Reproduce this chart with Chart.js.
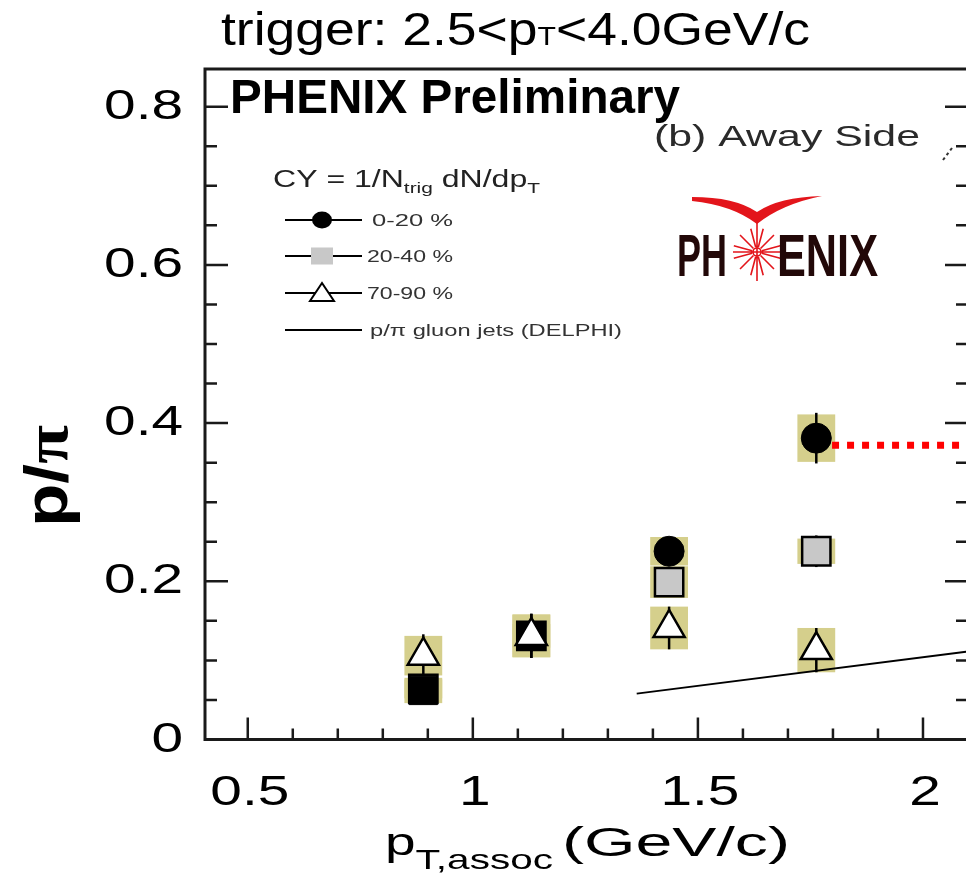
<!DOCTYPE html>
<html>
<head>
<meta charset="utf-8">
<script src="https://cdn.jsdelivr.net/npm/chart.js@4.4.0/dist/chart.umd.min.js"></script>
<style>
html, body { margin: 0; padding: 0; background: #fff; overflow: hidden; }
canvas { display: block; }
</style>
</head>
<body>
<canvas id="ratioChart" width="970" height="880" style="width:970px;height:880px"></canvas>
<script>
// p/pi ratio, away side, trigger 2.5<pT<4.0 GeV/c
const ptAssoc = [0.89, 1.13, 1.436, 1.763]

const ratio0_20 = [0.062, 0.131, 0.238, 0.381]
const stat0_20 = [0.012, 0.028, 0.014, 0.032]
const sys0_20 = [0.016, 0.027, 0.018, 0.030]

const ratio20_40 = [0.064, 0.131, 0.199, 0.238]
const stat20_40 = [0.010, 0.020, 0.018, 0.020]
const sys20_40 = [0.012, 0.015, 0.020, 0.016]

const ratio70_90 = [0.106, 0.131, 0.141, 0.113]
const stat70_90 = [0.027, 0.028, 0.027, 0.028]
const sys70_90 = [0.025, 0.027, 0.027, 0.028]

// DELPHI gluon jet p/pi line and the red dotted level
const delphiX = [1.364, 2.1]
const delphiY = [0.058, 0.1113]
const redLineX = [1.798, 2.1]
const redLineY = [0.372, 0.372]

const xTickLabels = [0.5, 1, 1.5, 2]
const yTickLabels = [0, 0.2, 0.4, 0.6, 0.8]
const legendLabels = ['0-20 %', '20-40 %', '70-90 %', 'p/\u03c0 gluon jets (DELPHI)']

const FONT = '"Liberation Sans", Arial, Helvetica, sans-serif'
const BOX_HALF = 0.042
const khaki = '#d5cf8c'

const toXY = (xs, ys) => xs.map((x, i) => ({ x: x, y: ys[i] }))

// draw a run of text pieces (for subscripts), optionally stretched to a width
function drawRuns(ctx, runs, x, y, opt) {
    opt = opt || {}
    let natural = 0
    const widths = runs.map(r => {
        ctx.font = (r.bold ? 'bold ' : '') + r.size + 'px ' + (r.family || FONT)
        const w = ctx.measureText(r.t).width
        natural += w
        return w
    })
    const sx = opt.width ? opt.width / natural : (opt.sx || 1)
    const total = natural * sx
    let left = x
    if (opt.align === 'center') left = x - total / 2
    if (opt.align === 'right') left = x - total
    ctx.save()
    ctx.fillStyle = opt.color || '#000'
    ctx.textAlign = 'left'
    ctx.textBaseline = 'alphabetic'
    ctx.translate(left, y)
    ctx.scale(sx, 1)
    let cx = 0
    runs.forEach((r, i) => {
        ctx.font = (r.bold ? 'bold ' : '') + r.size + 'px ' + (r.family || FONT)
        ctx.fillText(r.t, cx, r.dy || 0)
        cx += widths[i]
    })
    ctx.restore()
}

// systematic boxes + stat error bars, under the markers
const errorBars = {
    id: 'errorBars',
    beforeDatasetsDraw(chart) {
        const { ctx, scales: { x, y } } = chart
        const groups = [
            [ratio70_90, sys70_90, stat70_90],
            [ratio20_40, sys20_40, stat20_40],
            [ratio0_20, sys0_20, stat0_20]
        ]
        ctx.save()
        ctx.fillStyle = khaki
        groups.forEach(g => {
            ptAssoc.forEach((p, i) => {
                const x0 = x.getPixelForValue(p - BOX_HALF)
                const x1 = x.getPixelForValue(p + BOX_HALF)
                const y0 = y.getPixelForValue(g[0][i] + g[1][i])
                const y1 = y.getPixelForValue(g[0][i] - g[1][i])
                ctx.fillRect(x0, y0, x1 - x0, y1 - y0)
            })
        })
        ctx.strokeStyle = '#000'
        ctx.lineWidth = 2.5
        groups.forEach(g => {
            ptAssoc.forEach((p, i) => {
                const px = x.getPixelForValue(p)
                ctx.beginPath()
                ctx.moveTo(px, y.getPixelForValue(g[0][i] + g[2][i]))
                ctx.lineTo(px, y.getPixelForValue(g[0][i] - g[2][i]))
                ctx.stroke()
            })
        })
        ctx.restore()
    }
}

// frame, inward ticks, tick labels
const frame = {
    id: 'frame',
    afterDraw(chart) {
        const { ctx, chartArea: a, scales: { x, y } } = chart
        ctx.save()
        ctx.strokeStyle = '#1a1a1a'
        ctx.lineWidth = 2.5
        ctx.beginPath()
        for (let i = Math.ceil(x.min * 10); i <= Math.floor(x.max * 10 + 1e-6); i++) {
            const v = i / 10
            const major = i % 5 === 0
            const px = x.getPixelForValue(v)
            ctx.moveTo(px, a.bottom)
            ctx.lineTo(px, a.bottom - (major ? 22 : 11))
        }
        for (let i = 1; i <= Math.floor(y.max * 20 + 1e-6); i++) {
            const v = i / 20
            const major = i % 4 === 0
            const py = y.getPixelForValue(v)
            const len = major ? 23 : 12
            ctx.moveTo(a.left, py)
            ctx.lineTo(a.left + len, py)
            ctx.moveTo(a.right, py)
            ctx.lineTo(a.right - len, py)
        }
        ctx.stroke()
        ctx.lineWidth = 3
        ctx.strokeRect(a.left, a.top, a.right - a.left, a.bottom - a.top)
        ctx.restore()

        xTickLabels.forEach(v => {
            drawRuns(ctx, [{ t: String(v), size: 43 }], x.getPixelForValue(v) + 2, 805, { sx: 1.32, align: 'center' })
        })
        yTickLabels.forEach(v => {
            drawRuns(ctx, [{ t: String(v), size: 43 }], 183, y.getPixelForValue(v) + 12, { sx: 1.32, align: 'right' })
        })
    }
}

// titles, legend and the logo
const annotations = {
    id: 'annotations',
    afterDraw(chart) {
        const ctx = chart.ctx

        drawRuns(ctx, [
            { t: 'trigger: 2.5<p', size: 46 },
            { t: 'T', size: 26 },
            { t: '<4.0GeV/c', size: 46 }
        ], 221, 45, { width: 589 })

        drawRuns(ctx, [{ t: 'PHENIX Preliminary', size: 49, bold: true }], 230, 113, { width: 450 })
        drawRuns(ctx, [{ t: '(b) Away Side', size: 30 }], 654, 146, { width: 266, color: '#2a2a2a' })

        // axis titles
        drawRuns(ctx, [
            { t: 'p', size: 38 },
            { t: 'T,assoc', size: 28, dy: 14 }
        ], 385, 855, { width: 168 })
        drawRuns(ctx, [{ t: '(GeV/c)', size: 40 }], 562, 856, { width: 228 })

        ctx.save()
        ctx.translate(67, 527)
        ctx.rotate(-Math.PI / 2)
        drawRuns(ctx, [
            { t: 'p/', size: 61, bold: true },
            { t: '\u03c0', size: 61, bold: true, family: '"Liberation Serif", serif' }
        ], 0, 0, { width: 102 })
        ctx.restore()

        // legend block
        drawRuns(ctx, [
            { t: 'CY = 1/N', size: 23 },
            { t: 'trig', size: 15, dy: 6 },
            { t: ' dN/dp', size: 23 },
            { t: 'T', size: 15, dy: 6 }
        ], 273, 187, { width: 267, color: '#222' })

        const rows = [220, 256, 293, 330]
        ctx.save()
        ctx.strokeStyle = '#000'
        ctx.lineWidth = 2
        rows.forEach(ry => {
            ctx.beginPath()
            ctx.moveTo(285, ry)
            ctx.lineTo(362, ry)
            ctx.stroke()
        })
        ctx.fillStyle = '#000'
        ctx.beginPath()
        ctx.ellipse(322, rows[0], 10, 8.5, 0, 0, Math.PI * 2)
        ctx.fill()
        ctx.fillStyle = '#c8c8c8'
        ctx.fillRect(311, rows[1] - 8.5, 22, 17)
        ctx.fillStyle = '#fff'
        ctx.beginPath()
        ctx.moveTo(322, rows[2] - 10)
        ctx.lineTo(334, rows[2] + 8)
        ctx.lineTo(310, rows[2] + 8)
        ctx.closePath()
        ctx.fill()
        ctx.stroke()
        ctx.restore()
        const lx = [372, 367, 367, 370]
        const lw = [81, 86, 86, 252]
        legendLabels.forEach((t, i) => {
            drawRuns(ctx, [{ t: t, size: 17 }], lx[i], rows[i] + 6, { width: lw[i], color: '#333' })
        })

        // PHENIX logo
        ctx.save()
        ctx.fillStyle = '#e3151b'
        ctx.beginPath()
        ctx.moveTo(692, 197)
        ctx.quadraticCurveTo(735, 197, 757, 212)
        ctx.quadraticCurveTo(779, 197, 822, 196)
        ctx.quadraticCurveTo(782, 204, 757, 224)
        ctx.quadraticCurveTo(732, 205, 692, 201)
        ctx.closePath()
        ctx.fill()
        ctx.strokeStyle = '#e3151b'
        ctx.lineWidth = 1.6
        ctx.beginPath()
        ctx.moveTo(757, 220)
        ctx.lineTo(757, 281)
        for (let k = 0; k < 12; k++) {
            const ang = k * Math.PI / 6 + Math.PI / 12
            ctx.moveTo(757 + Math.cos(ang) * 5, 252 + Math.sin(ang) * 5)
            ctx.lineTo(757 + Math.cos(ang) * 24, 252 + Math.sin(ang) * 24)
        }
        ctx.moveTo(733, 252)
        ctx.lineTo(781, 252)
        ctx.stroke()
        ctx.beginPath()
        ctx.arc(757, 252, 4, 0, Math.PI * 2)
        ctx.stroke()
        ctx.restore()
        drawRuns(ctx, [{ t: 'PH', size: 60, bold: true }], 677, 276, { width: 50, color: '#220808' })
        drawRuns(ctx, [{ t: 'ENIX', size: 60, bold: true }], 777, 276, { width: 101, color: '#220808' })

        // stray marks at the right edge of the crop
        ctx.save()
        ctx.strokeStyle = '#333'
        ctx.lineWidth = 2
        ctx.setLineDash([3, 3])
        ctx.beginPath()
        ctx.moveTo(943, 160)
        ctx.lineTo(952, 148)
        ctx.stroke()
        ctx.restore()
    }
}

new Chart(document.getElementById('ratioChart'), {
    type: 'scatter',
    data: {
        datasets: [
            {
                label: legendLabels[2],
                data: toXY(ptAssoc, ratio70_90),
                pointStyle: 'triangle',
                pointRadius: 18,
                backgroundColor: '#fff',
                borderColor: '#000',
                borderWidth: 2.5,
                order: 0
            },
            {
                label: legendLabels[0],
                data: toXY(ptAssoc, ratio0_20),
                pointStyle: ['rect', 'rect', 'circle', 'circle'],
                pointRadius: [20, 20, 15, 15],
                backgroundColor: '#000',
                borderColor: '#000',
                borderWidth: 1,
                order: 1
            },
            {
                label: legendLabels[1],
                data: toXY(ptAssoc, ratio20_40),
                pointStyle: 'rect',
                pointRadius: 20,
                backgroundColor: '#c8c8c8',
                borderColor: '#000',
                borderWidth: 2.5,
                order: 2
            },
            {
                label: 'level',
                data: toXY(redLineX, redLineY),
                showLine: true,
                borderColor: '#ff0000',
                borderWidth: 7,
                borderDash: [7, 8],
                pointRadius: 0,
                order: 3
            },
            {
                label: legendLabels[3],
                data: toXY(delphiX, delphiY),
                showLine: true,
                borderColor: '#000',
                borderWidth: 2,
                pointRadius: 0,
                order: 4
            }
        ]
    },
    options: {
        responsive: false,
        animation: false,
        layout: { autoPadding: false, padding: { top: 69, right: 2, left: 0, bottom: 0 } },
        plugins: { legend: { display: false }, tooltip: { enabled: false } },
        scales: {
            x: {
                type: 'linear',
                min: 0.405,
                max: 2.1,
                ticks: { display: false },
                grid: { display: false },
                border: { display: false },
                afterFit: s => { s.height = 140.5 }
            },
            y: {
                type: 'linear',
                min: 0,
                max: 0.8477,
                ticks: { display: false },
                grid: { display: false },
                border: { display: false },
                afterFit: s => { s.width = 205 }
            }
        }
    },
    plugins: [errorBars, frame, annotations]
})
</script>
</body>
</html>
